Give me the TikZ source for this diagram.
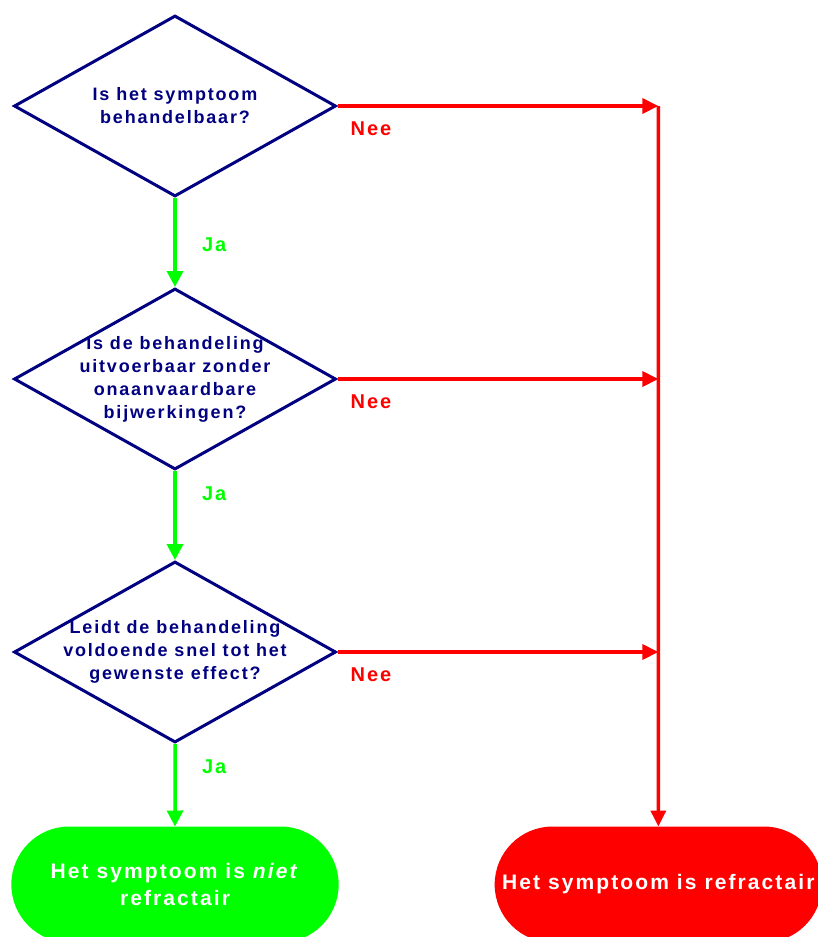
\documentclass[tikz,border=0pt]{standalone}
\usepackage{fontspec}
\setmainfont{Liberation Sans}
\newfontfamily\spacedfont[LetterSpace=10]{Liberation Sans}
\usetikzlibrary{arrows.meta,positioning,shapes.geometric,shapes.misc}
\definecolor{navy}{RGB}{0,0,128}
\definecolor{yesgreen}{RGB}{0,255,0}
\definecolor{nored}{RGB}{255,0,0}

\begin{document}
\begin{tikzpicture}[
	x=1pt, y=-1pt,
	every node/.style = {align=center},
	question/.style = {diamond, draw=navy, line width=3pt, minimum width=322pt,
		minimum height=181pt, inner sep=0pt},
	qtext/.style = {text=navy, font=\spacedfont\bfseries\fontsize{18}{23}\selectfont},
	terminal/.style = {rounded rectangle, minimum width=334pt, minimum height=116pt,
		outer sep=0pt, text=white, font=\spacedfont\bfseries\fontsize{21}{27}\selectfont},
	Yes/.style = {draw=yesgreen, line width=3.5pt, -{Triangle[length=16pt,width=16pt]}},
	No/.style = {draw=nored, line width=3.5pt, -{Triangle[length=16pt,width=15pt]}},
	YesLabel/.style = {right=22pt, text=yesgreen, font=\spacedfont\bfseries\fontsize{20}{24}\selectfont},
	NoLabel/.style = {at start, anchor=north west, xshift=8pt, yshift=-11pt, text=nored,
		font=\spacedfont\bfseries\fontsize{20}{24}\selectfont}
]
\useasboundingbox (0,0) rectangle (817,937);

% the three questions
\node[question] (q1) at (175,106) {};
\node[qtext] (t1) at (q1) {Is het symptoom\\behandelbaar?};
\node[question, below=89pt of q1] (q2) {};
\node[qtext] (t2) at (q2) {Is de behandeling\\uitvoerbaar zonder\\onaanvaardbare\\bijwerkingen?};
\node[question, below=89pt of q2] (q3) {};
\node[qtext] (t3) at (q3) {Leidt de behandeling\\voldoende snel tot het\\gewenste effect?};

% outcomes
\node[terminal, fill=yesgreen, below=82.5pt of q3] (yesend) {Het symptoom is \textit{niet}\\refractair};
\node[terminal, fill=nored, right=156pt of yesend] (noend) {Het symptoom is refractair};

\coordinate (j1) at (q1 -| noend);
\coordinate (j2) at (q2 -| noend);
\coordinate (j3) at (q3 -| noend);

% yes branch
\draw[Yes] (q1) -- node[YesLabel, pos=0.52] {Ja} (q2);
\draw[Yes] (q2) -- node[YesLabel, pos=0.26] {Ja} (q3);
\draw[Yes] (q3) -- node[YesLabel, pos=0.28] {Ja} (yesend);

% no branch
\draw[No] (q1.east) -- node[NoLabel] {Nee} (j1);
\draw[No] (q2.east) -- node[NoLabel] {Nee} (j2);
\draw[No] (q3.east) -- node[NoLabel] {Nee} (j3);
\draw[No] (j1) -- (noend);
\end{tikzpicture}
\end{document}
